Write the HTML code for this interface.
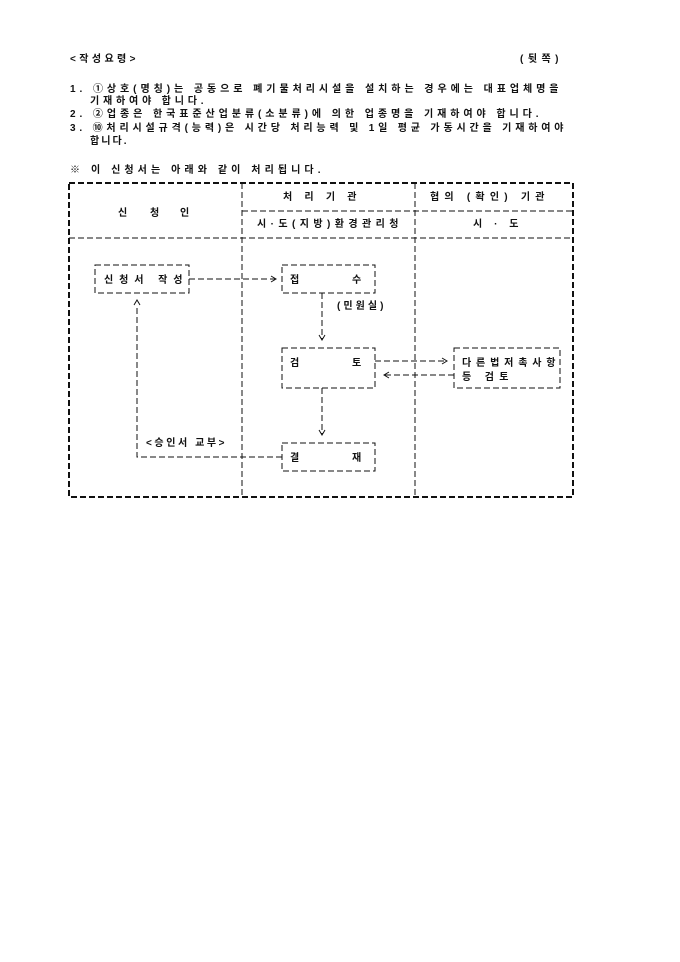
<!DOCTYPE html>
<html><head><meta charset="utf-8"><style>
body{margin:0;background:#fff;width:680px;height:962px;overflow:hidden}
svg{display:block}
text{font-family:"Liberation Sans","Noto Sans CJK KR","NanumGothic",sans-serif;font-size:10px;font-weight:bold;fill:#111;letter-spacing:1.5px}
</style></head><body>
<svg width="680" height="962" xmlns="http://www.w3.org/2000/svg">
<text x="70" y="62" textLength="67" lengthAdjust="spacing">&lt;작성요령&gt;</text>
<text x="520" y="62" textLength="40" lengthAdjust="spacing">(뒷쪽)</text>
<text x="70" y="92" textLength="490" lengthAdjust="spacing">1. ①상호(명칭)는 공동으로 폐기물처리시설을 설치하는 경우에는 대표업체명을</text>
<text x="90" y="104" textLength="115" lengthAdjust="spacing">기재하여야 합니다.</text>
<text x="70" y="117" textLength="470" lengthAdjust="spacing">2. ②업종은 한국표준산업분류(소분류)에 의한 업종명을 기재하여야 합니다.</text>
<text x="70" y="131" textLength="495" lengthAdjust="spacing">3. ⑩처리시설규격(능력)은 시간당 처리능력 및 1일 평균 가동시간을 기재하여야</text>
<text x="90" y="144" textLength="38" lengthAdjust="spacing">합니다.</text>
<text x="70" y="173" textLength="252" lengthAdjust="spacing">※ 이 신청서는 아래와 같이 처리됩니다.</text>
<g fill="none" stroke="#111" stroke-dasharray="6,3">
<rect x="69" y="183" width="504" height="314" stroke-width="2"/>
<line x1="242" y1="183" x2="242" y2="497" stroke-width="1"/>
<line x1="415" y1="183" x2="415" y2="497" stroke-width="1"/>
<line x1="242" y1="211" x2="573" y2="211" stroke-width="1"/>
<line x1="69" y1="238" x2="573" y2="238" stroke-width="1"/>
<rect x="95" y="265" width="94" height="28"/>
<rect x="282" y="265" width="93" height="28"/>
<rect x="282" y="348" width="93" height="40"/>
<rect x="454" y="348" width="106" height="40"/>
<rect x="282" y="443" width="93" height="28"/>
<line x1="189" y1="279" x2="275" y2="279"/>
<line x1="322" y1="293" x2="322" y2="339"/>
<line x1="375" y1="361" x2="446" y2="361"/>
<line x1="454" y1="375" x2="385" y2="375"/>
<line x1="322" y1="388" x2="322" y2="434"/>
<polyline points="282,457 137,457 137,305"/>
</g>
<g fill="none" stroke="#111" stroke-width="1">
<polyline points="271,276 276,279 271,282"/>
<polyline points="319,335 322,340 325,335"/>
<polyline points="442,358 447,361 442,364"/>
<polyline points="389,372 384,375 389,378"/>
<polyline points="319,430 322,435 325,430"/>
<polyline points="134,305 137,300 140,305"/>
</g>
<text x="118" y="216">신</text><text x="150" y="216">청</text><text x="180" y="216">인</text>
<text x="283" y="200" textLength="75" lengthAdjust="spacing">처 리 기 관</text>
<text x="430" y="200" textLength="116" lengthAdjust="spacing">협의 (확인) 기관</text>
<text x="257" y="227" textLength="143" lengthAdjust="spacing">시·도(지방)환경관리청</text>
<text x="473" y="227" textLength="47" lengthAdjust="spacing">시 · 도</text>
<text x="104" y="283" textLength="80" lengthAdjust="spacing">신청서 작성</text>
<text x="290" y="283">접</text><text x="352" y="283">수</text>
<text x="337" y="309" textLength="48" lengthAdjust="spacing">(민원실)</text>
<text x="290" y="366">검</text><text x="352" y="366">토</text>
<text x="462" y="366" textLength="95" lengthAdjust="spacing">다른법저촉사항</text>
<text x="462" y="380" textLength="48" lengthAdjust="spacing">등 검토</text>
<text x="146" y="446" textLength="80" lengthAdjust="spacing">&lt;승인서 교부&gt;</text>
<text x="290" y="461">결</text><text x="352" y="461">재</text>
</svg>
</body></html>
